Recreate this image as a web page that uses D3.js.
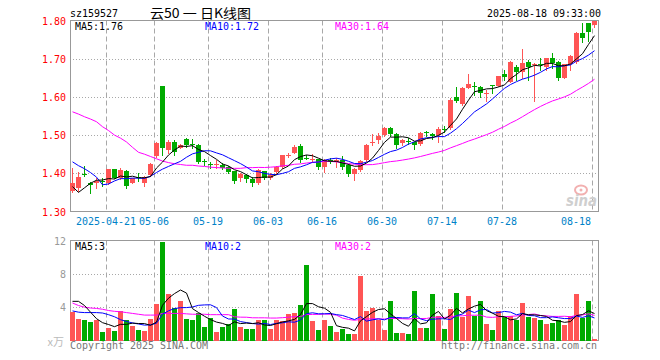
<!DOCTYPE html>
<html><head><meta charset="utf-8">
<script src="https://cdn.jsdelivr.net/npm/d3@7"></script>
<style>body{margin:0;background:#fff}svg{display:block}</style>
</head><body><svg id="c" width="660" height="360"></svg>
<script>
// ---------- data ----------
const dates = [
"2025-04-11","2025-04-14","2025-04-15","2025-04-16","2025-04-17","2025-04-18","2025-04-21","2025-04-22","2025-04-23","2025-04-24",
"2025-04-25","2025-04-28","2025-04-29","2025-04-30","2025-05-06","2025-05-07","2025-05-08","2025-05-09","2025-05-12","2025-05-13",
"2025-05-14","2025-05-15","2025-05-16","2025-05-19","2025-05-20","2025-05-21","2025-05-22","2025-05-23","2025-05-26","2025-05-27",
"2025-05-28","2025-05-29","2025-05-30","2025-06-03","2025-06-04","2025-06-05","2025-06-06","2025-06-09","2025-06-10","2025-06-11",
"2025-06-12","2025-06-13","2025-06-16","2025-06-17","2025-06-18","2025-06-19","2025-06-20","2025-06-23","2025-06-24","2025-06-25",
"2025-06-26","2025-06-27","2025-06-30","2025-07-01","2025-07-02","2025-07-03","2025-07-04","2025-07-07","2025-07-08","2025-07-09",
"2025-07-10","2025-07-11","2025-07-14","2025-07-15","2025-07-16","2025-07-17","2025-07-18","2025-07-21","2025-07-22","2025-07-23",
"2025-07-24","2025-07-25","2025-07-28","2025-07-29","2025-07-30","2025-07-31","2025-08-01","2025-08-04","2025-08-05","2025-08-06",
"2025-08-07","2025-08-08","2025-08-11","2025-08-12","2025-08-13","2025-08-14","2025-08-15","2025-08-18"];
const open = [1.354,1.361,1.397,1.374,1.375,1.379,1.375,1.410,1.387,1.406,
 1.375,1.390,1.375,1.395,1.444,1.628,1.461,1.483,1.466,1.490,
 1.478,1.474,1.432,1.424,1.423,1.423,1.417,1.406,1.387,1.395,
 1.386,1.375,1.406,1.387,1.404,1.416,1.447,1.454,1.472,1.440,
 1.436,1.437,1.416,1.436,1.430,1.436,1.423,1.397,1.408,1.434,
 1.480,1.487,1.500,1.518,1.504,1.480,1.485,1.482,1.477,1.507,
 1.504,1.499,1.517,1.519,1.601,1.581,1.624,1.628,1.627,1.610,
 1.630,1.629,1.659,1.640,1.679,1.666,1.692,1.683,1.685,1.677,
 1.701,1.692,1.650,1.685,1.692,1.766,1.793,1.787];
const high = [1.413,1.404,1.419,1.376,1.389,1.387,1.412,1.411,1.413,1.409,
 1.389,1.400,1.392,1.426,1.482,1.629,1.487,1.487,1.476,1.492,
 1.490,1.476,1.437,1.429,1.435,1.426,1.420,1.407,1.402,1.397,
 1.391,1.411,1.407,1.400,1.420,1.449,1.454,1.474,1.476,1.449,
 1.450,1.437,1.437,1.440,1.440,1.445,1.425,1.414,1.436,1.477,
 1.502,1.506,1.520,1.522,1.505,1.491,1.493,1.482,1.508,1.511,
 1.506,1.522,1.524,1.596,1.627,1.626,1.660,1.638,1.628,1.618,
 1.631,1.656,1.670,1.694,1.684,1.725,1.697,1.688,1.703,1.702,
 1.714,1.693,1.686,1.709,1.769,1.793,1.793,1.800];
const low = [1.352,1.354,1.392,1.349,1.361,1.367,1.372,1.388,1.384,1.362,
 1.374,1.380,1.366,1.393,1.442,1.448,1.452,1.448,1.465,1.470,
 1.465,1.426,1.422,1.413,1.413,1.410,1.400,1.375,1.380,1.378,
 1.368,1.373,1.384,1.384,1.400,1.415,1.442,1.452,1.430,1.437,
 1.430,1.410,1.404,1.428,1.417,1.411,1.392,1.382,1.405,1.432,
 1.473,1.480,1.498,1.497,1.467,1.473,1.478,1.464,1.473,1.497,
 1.489,1.482,1.508,1.517,1.587,1.578,1.622,1.605,1.601,1.590,
 1.609,1.628,1.644,1.638,1.643,1.649,1.644,1.588,1.670,1.670,
 1.675,1.645,1.649,1.670,1.690,1.745,1.746,1.783];
const close = [1.374,1.391,1.395,1.369,1.380,1.377,1.410,1.389,1.409,1.367,
 1.387,1.389,1.390,1.424,1.479,1.465,1.481,1.457,1.474,1.474,
 1.476,1.430,1.430,1.422,1.425,1.415,1.404,1.381,1.397,1.384,
 1.374,1.409,1.387,1.396,1.417,1.448,1.448,1.470,1.436,1.438,
 1.438,1.416,1.436,1.430,1.436,1.417,1.397,1.412,1.433,1.475,
 1.482,1.497,1.518,1.502,1.474,1.487,1.484,1.473,1.506,1.506,
 1.497,1.515,1.516,1.593,1.590,1.624,1.634,1.627,1.609,1.611,
 1.628,1.655,1.653,1.692,1.666,1.690,1.679,1.686,1.684,1.701,
 1.688,1.649,1.685,1.708,1.768,1.755,1.771,1.800];
const volume = [3.4,2.6,2.45,2.2,2.45,1.0,1.5,1.15,3.6,2.45,
 1.7,1.3,1.1,2.55,4.4,11.8,5.55,3.85,4.7,2.55,
 2.45,3.25,1.6,2.7,1.05,1.65,2.0,3.8,1.65,1.35,
 1.35,2.5,2.45,1.35,2.45,2.35,3.2,3.3,4.25,9.05,
 2.35,1.3,2.45,1.75,1.05,1.35,0.8,0.8,7.8,3.6,
 3.9,2.5,1.25,4.7,0.9,0.9,0.8,5.9,1.5,1.5,
 5.55,3.0,1.35,3.75,5.65,2.8,5.4,3.0,4.8,1.95,
 1.25,3.5,2.8,2.9,2.5,4.45,2.8,2.75,2.5,1.95,
 2.15,2.45,1.85,2.95,5.55,2.75,4.75,0.15];
// moving-average values at the left edge (window reaches before the visible range)
const ma5Head = [1.365,1.350,1.362,1.374];
const ma10Head = [1.430,1.420,1.412,1.402,1.390,1.370,1.372,1.380,1.386];
const ma30Head = [1.561,1.555,1.548,1.542,1.535,1.522,1.512,1.500,1.492,1.482,1.468,1.455,1.450,1.444,1.438,1.432,1.428,1.425,1.423,1.421,1.421,1.419,1.418,1.416,1.415,1.414,1.413,1.413,1.413];
const vma5Head = [4.7,4.7,4.2,3.4];
const vma10Head = [3.55,3.4,3.35,3.35,3.35,3.3,3.1,2.85,2.5];
const vma30Head = [4.5,4.2,4.0,3.9,3.85,3.75,3.6,3.5,3.45,3.35,3.25,3.15,3.05,3.05,3.05,3.25,3.25,3.25,3.25,3.2,3.15,3.15,3.15,3.1,3.1,3.1,3.1,2.85,2.8];

const priceTicks = [1.30,1.40,1.50,1.60,1.70,1.80];
const volTicks = [4,8,12];
const tickDates = ["2025-04-21","2025-05-06","2025-05-19","2025-06-03","2025-06-16","2025-06-30","2025-07-14","2025-07-28","2025-08-18"];
const tickLabels = ["2025-04-21","05-06","05-19","06-03","06-16","06-30","07-14","07-28","08-18"];
const priceLegend = ["MA5:1.76","MA10:1.72","MA30:1.64"];
const volLegend = ["MA5:3","MA10:2","MA30:2"];
const legendColors = ["#000000","#0000ff","#ff00ff"];
const titleCode = "sz159527";
const titleName = "云50 一 日K线图";
const titleTime = "2025-08-18 09:33:00";

// ---------- drawing ----------
const RED = "#ff5555", GREEN = "#00aa00", GRID = "#a8a8a8", BORDER = "#999999";
const mono = "'DejaVu Sans Mono','Liberation Mono',monospace";
const svg = d3.select("#c");

const x = d3.scaleBand().domain(dates).range([70, 597]).paddingInner(1/6).paddingOuter(0);
const bw = x.bandwidth();
const y = d3.scaleLinear().domain([1.30, 1.80]).range([211.5, 20.5]);
const yv = d3.scaleLinear().domain([0, 12]).range([340.5, 240.5]);

function fitMono(sel) {
  sel.each(function(){ const t = d3.select(this).text(); d3.select(this).attr("textLength", t.length*6).attr("lengthAdjust","spacingAndGlyphs"); });
  return sel;
}
function ma(arr, n, head) {
  return arr.map((_, i) => i < n - 1 ? head[i] : d3.mean(arr.slice(i - n + 1, i + 1)));
}

// title
svg.append("text").attr("x",70).attr("y",17).style("font",`11px ${mono}`).text(titleCode).call(fitMono);
svg.append("text").attr("x",150).attr("y",18).style("font","13px 'Noto Sans CJK SC'").attr("textLength",101).attr("lengthAdjust","spacingAndGlyphs").text(titleName);
svg.append("text").attr("x",601).attr("y",17).attr("text-anchor","end").style("font",`11px ${mono}`).text(titleTime).call(fitMono);

// grids
const gGrid = svg.append("g");
gGrid.selectAll(".hp").data(priceTicks.filter(d => d > 1.30 && d < 1.80)).join("line")
  .attr("x1",70).attr("x2",598).attr("y1",d=>Math.round(y(d))+0.5).attr("y2",d=>Math.round(y(d))+0.5)
  .attr("stroke",GRID).attr("stroke-dasharray","1,2");
gGrid.selectAll(".hv").data(volTicks.filter(d => d < 12)).join("line")
  .attr("x1",70).attr("x2",598).attr("y1",d=>Math.round(yv(d))+0.5).attr("y2",d=>Math.round(yv(d))+0.5)
  .attr("stroke",GRID).attr("stroke-dasharray","1,2");
[[20.5,211.5],[240.5,340.5]].forEach(([a,b]) => {
  gGrid.append("g").selectAll("line").data(tickDates).join("line")
    .attr("x1",d=>x(d)+0.5).attr("x2",d=>x(d)+0.5).attr("y1",a).attr("y2",b)
    .attr("stroke",GRID).attr("stroke-dasharray","5,3");
});

// watermark
const wm = svg.append("g");
wm.append("ellipse").attr("cx",581).attr("cy",190).attr("rx",6).attr("ry",4.5).attr("fill","none").attr("stroke","#f2b0b0").attr("stroke-width",2);
wm.append("circle").attr("cx",581).attr("cy",190).attr("r",1.5).attr("fill","#f2b0b0");
wm.append("text").attr("x",566).attr("y",206).style("font","italic bold 15px 'DejaVu Sans'").attr("fill","#cfcfcf").attr("textLength",31).attr("lengthAdjust","spacingAndGlyphs").text("sina");

// borders
svg.append("rect").attr("x",70.5).attr("y",20.5).attr("width",528).attr("height",191).attr("fill","none").attr("stroke",BORDER);
svg.append("rect").attr("x",70.5).attr("y",240.5).attr("width",528).attr("height",100).attr("fill","none").attr("stroke",BORDER);

// axes
const gy = svg.append("g").attr("transform","translate(70,0)")
  .call(d3.axisLeft(y).tickValues(priceTicks).tickFormat(d3.format(".2f")).tickSize(0).tickPadding(4));
gy.select(".domain").remove();
gy.selectAll("text").attr("fill","#ff0000").style("font",`11px ${mono}`).call(fitMono);

const gyv = svg.append("g").attr("transform","translate(70,0)")
  .call(d3.axisLeft(yv).tickValues(volTicks).tickFormat(d3.format("d")).tickSize(0).tickPadding(4));
gyv.select(".domain").remove();
gyv.selectAll("text").attr("fill","#999999").style("font",`11px ${mono}`).call(fitMono);
svg.append("text").attr("x",64).attr("y",346).attr("text-anchor","end").attr("fill","#bbbbbb").style("font","11px 'Noto Sans CJK SC'").text("x万");

const gx = svg.append("g").attr("transform",`translate(${-bw/2},211.5)`)
  .call(d3.axisBottom(x).tickValues(tickDates).tickFormat((d,i)=>tickLabels[i]).tickSize(0).tickPadding(6));
gx.select(".domain").remove();
gx.selectAll("text").attr("fill","#0082c8").style("font",`11px ${mono}`).call(fitMono);
gx.selectAll("text").filter((d,i,n)=> i === n.length-1).attr("text-anchor","end").attr("x",-1);

// candles
const idx = d3.range(dates.length);
const colorOf = i => close[i] >= open[i] ? RED : GREEN;
const gc = svg.append("g");
gc.selectAll("line").data(idx).join("line")
  .attr("x1",i=>x(dates[i])+bw/2).attr("x2",i=>x(dates[i])+bw/2)
  .attr("y1",i=>Math.round(y(high[i]))).attr("y2",i=>Math.round(y(low[i]))+1)
  .attr("stroke",colorOf).attr("stroke-width",1);
gc.selectAll("rect").data(idx).join("rect")
  .attr("x",i=>x(dates[i])).attr("width",bw)
  .attr("y",i=>Math.round(y(Math.max(open[i],close[i]))))
  .attr("height",i=>Math.max(1, Math.round(y(Math.min(open[i],close[i]))) - Math.round(y(Math.max(open[i],close[i])))))
  .attr("fill",colorOf);

// volume bars
svg.append("g").selectAll("rect").data(idx).join("rect")
  .attr("x",i=>x(dates[i])).attr("width",bw)
  .attr("y",i=>Math.round(yv(volume[i])))
  .attr("height",i=>341 - Math.round(yv(volume[i])))
  .attr("fill",colorOf);

// moving averages
const priceMAs = [ma(close,5,ma5Head), ma(close,10,ma10Head), ma(close,30,ma30Head)];
const volMAs = [ma(volume,5,vma5Head), ma(volume,10,vma10Head), ma(volume,30,vma30Head)];
const lp = d3.line().x((d,i)=>x(dates[i])+bw/2).y(d=>y(d));
const lv = d3.line().x((d,i)=>x(dates[i])+bw/2).y(d=>yv(d));
const order = [2,1,0];
order.forEach(k => {
  svg.append("path").attr("d",lp(priceMAs[k])).attr("fill","none").attr("stroke",legendColors[k]).attr("stroke-width",1);
  svg.append("path").attr("d",lv(volMAs[k])).attr("fill","none").attr("stroke",legendColors[k]).attr("stroke-width",1);
});

// legends
const legX = [75,205,335];
svg.append("g").selectAll("text").data(priceLegend).join("text")
  .attr("x",(d,i)=>legX[i]).attr("y",30).attr("fill",(d,i)=>legendColors[i]).style("font",`11px ${mono}`).text(d=>d).call(fitMono);
svg.append("g").selectAll("text").data(volLegend).join("text")
  .attr("x",(d,i)=>legX[i]).attr("y",250).attr("fill",(d,i)=>legendColors[i]).style("font",`11px ${mono}`).text(d=>d).call(fitMono);

// footer
svg.append("text").attr("x",70).attr("y",349).attr("fill","#777777").style("font",`11px ${mono}`).text("Copyright 2025 SINA.COM").call(fitMono);
svg.append("text").attr("x",597).attr("y",349).attr("text-anchor","end").attr("fill","#777777").style("font",`11px ${mono}`).text("http://finance.sina.com.cn").call(fitMono);
</script>
</body></html>
